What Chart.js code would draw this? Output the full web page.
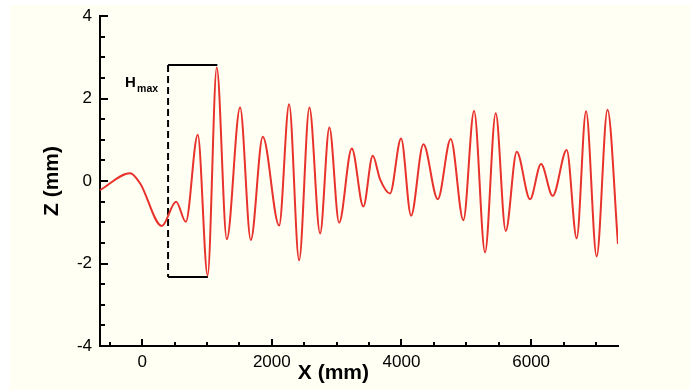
<!DOCTYPE html>
<html>
<head>
<meta charset="utf-8">
<script src="https://cdn.jsdelivr.net/npm/chart.js@4.4.0/dist/chart.umd.min.js"></script>
<style>
    body { margin: 0; background: #ffffff; }
    .panel { position: absolute; left: 10px; top: 5px; width: 680px; height: 385px; background: #fffff3; }
</style>
</head>
<body>
<div class="panel"><canvas id="waveChart" width="680" height="385"></canvas></div>
<script>
// X (mm) positions and surface elevation Z (mm)
let xValues = [-650, -185, -30, 303, 524, 674, 858, 1010, 1151, 1306, 1511, 1676, 1861, 2113,
    2267, 2421, 2580, 2745, 2888, 3038, 3234, 3412, 3557, 3670, 3824, 3994, 4148, 4338, 4560,
    4760, 4955, 5120, 5289, 5454, 5608, 5778, 5983, 6153, 6333, 6549, 6703, 6847, 7011, 7178, 7340];
let zValues = [-0.22, 0.19, -0.06, -1.09, -0.50, -0.99, 1.12, -2.29, 2.75, -1.41, 1.78, -1.43, 1.07, -1.08,
    1.86, -1.92, 1.78, -1.27, 1.30, -1.01, 0.79, -0.62, 0.61, 0.04, -0.30, 1.03, -0.84, 0.89, -0.44,
    1.02, -0.95, 1.70, -1.73, 1.64, -1.21, 0.71, -0.44, 0.41, -0.36, 0.75, -1.39, 1.69, -1.83, 1.73, -1.53];

// Hmax bracket
let hmaxX = 400;
let hmaxTop = 2.81;
let hmaxBottom = -2.33;
let hmaxTopEnd = 1160;
let hmaxBottomEnd = 1015;

// axes
let xRange = [-650, 7340];
let xTicks = [-500, 0, 500, 1000, 1500, 2000, 2500, 3000, 3500, 4000, 4500, 5000, 5500, 6000, 6500, 7000];
let xLabels = [0, 2000, 4000, 6000];
let yRange = [-4, 4];
let yTicks = [-4, -3.5, -3, -2.5, -2, -1.5, -1, -0.5, 0, 0.5, 1, 1.5, 2, 2.5, 3, 3.5, 4];
let yLabels = [-4, -2, 0, 2, 4];

let wavePoints = xValues.map((x, i) => ({ x: x, y: zValues[i] }));

// inward tick marks + titles + Hmax text
let decorations = {
    id: 'decorations',
    afterDraw(chart) {
        let ctx = chart.ctx;
        let xs = chart.scales.x;
        let ys = chart.scales.y;
        let area = chart.chartArea;
        ctx.save();
        ctx.strokeStyle = '#000';
        ctx.lineWidth = 2;
        ys.ticks.forEach(t => {
            let py = Math.round(ys.getPixelForValue(t.value));
            let len = yLabels.includes(t.value) ? 8 : 5;
            ctx.beginPath();
            ctx.moveTo(area.left, py);
            ctx.lineTo(area.left + len, py);
            ctx.stroke();
        });
        xs.ticks.forEach(t => {
            let px = Math.round(xs.getPixelForValue(t.value));
            let len = xLabels.includes(t.value) ? 7 : 4;
            ctx.beginPath();
            ctx.moveTo(px, area.bottom);
            ctx.lineTo(px, area.bottom - len);
            ctx.stroke();
        });

        ctx.fillStyle = '#000';
        ctx.font = 'bold 21px "Liberation Sans", Arial, sans-serif';
        ctx.textAlign = 'center';
        ctx.textBaseline = 'middle';
        ctx.fillText('X (mm)', xs.getPixelForValue(2950), area.bottom + 27);
        ctx.save();
        ctx.translate(42, (area.top + area.bottom) / 2);
        ctx.rotate(-Math.PI / 2);
        ctx.fillText('Z (mm)', 0, 0);
        ctx.restore();

        let hx = xs.getPixelForValue(hmaxX);
        let hy = ys.getPixelForValue(hmaxTop);
        ctx.textAlign = 'left';
        ctx.textBaseline = 'alphabetic';
        ctx.font = 'bold 15px "Liberation Sans", Arial, sans-serif';
        ctx.fillText('H', hx - 43, hy + 22);
        ctx.font = 'bold 10.5px "Liberation Sans", Arial, sans-serif';
        ctx.fillText('max', hx - 31, hy + 27);
        ctx.restore();
    }
};

let ctx = document.getElementById('waveChart').getContext('2d');
let waveChart = new Chart(ctx, {
    type: 'line',
    data: {
        datasets: [{
            data: wavePoints,
            borderColor: '#e8322c',
            borderWidth: 2,
            pointRadius: 0,
            cubicInterpolationMode: 'monotone',
            fill: false
        }, {
            data: [{ x: hmaxX, y: hmaxTop }, { x: hmaxX, y: hmaxBottom }],
            borderColor: '#000',
            borderWidth: 2,
            borderDash: [7, 4],
            pointRadius: 0
        }, {
            data: [{ x: hmaxX, y: hmaxTop }, { x: hmaxTopEnd, y: hmaxTop }],
            borderColor: '#000',
            borderWidth: 2,
            pointRadius: 0
        }, {
            data: [{ x: hmaxX, y: hmaxBottom }, { x: hmaxBottomEnd, y: hmaxBottom }],
            borderColor: '#000',
            borderWidth: 2,
            pointRadius: 0
        }]
    },
    options: {
        responsive: false,
        animation: false,
        layout: { padding: { top: 11, right: 72, left: 0, bottom: 0 } },
        plugins: {
            legend: false,
            tooltip: { enabled: false }
        },
        scales: {
            x: {
                type: 'linear',
                min: xRange[0],
                max: xRange[1],
                grid: { display: false, drawTicks: false },
                border: { display: true, color: '#000', width: 2 },
                afterBuildTicks: (scale) => { scale.ticks = xTicks.map(v => ({ value: v })); },
                ticks: {
                    autoSkip: false,
                    maxRotation: 0,
                    padding: 6,
                    color: '#000',
                    font: { size: 17, family: '"Liberation Sans", Arial, sans-serif' },
                    callback: (value) => xLabels.includes(value) ? String(value) : ''
                },
                afterFit: (scale) => {
                    scale.height = 44;
                    scale.paddingLeft = 0;
                    scale.paddingRight = 0;
                }
            },
            y: {
                min: yRange[0],
                max: yRange[1],
                grid: { display: false, drawTicks: false },
                border: { display: true, color: '#000', width: 2 },
                afterBuildTicks: (scale) => { scale.ticks = yTicks.map(v => ({ value: v })); },
                ticks: {
                    autoSkip: false,
                    padding: 8,
                    color: '#000',
                    font: { size: 17, family: '"Liberation Sans", Arial, sans-serif' },
                    callback: (value) => yLabels.includes(value) ? String(value) : ''
                },
                afterFit: (scale) => {
                    scale.width = 90;
                    scale.paddingTop = 0;
                    scale.paddingBottom = 0;
                }
            }
        }
    },
    plugins: [decorations]
});
</script>
</body>
</html>
